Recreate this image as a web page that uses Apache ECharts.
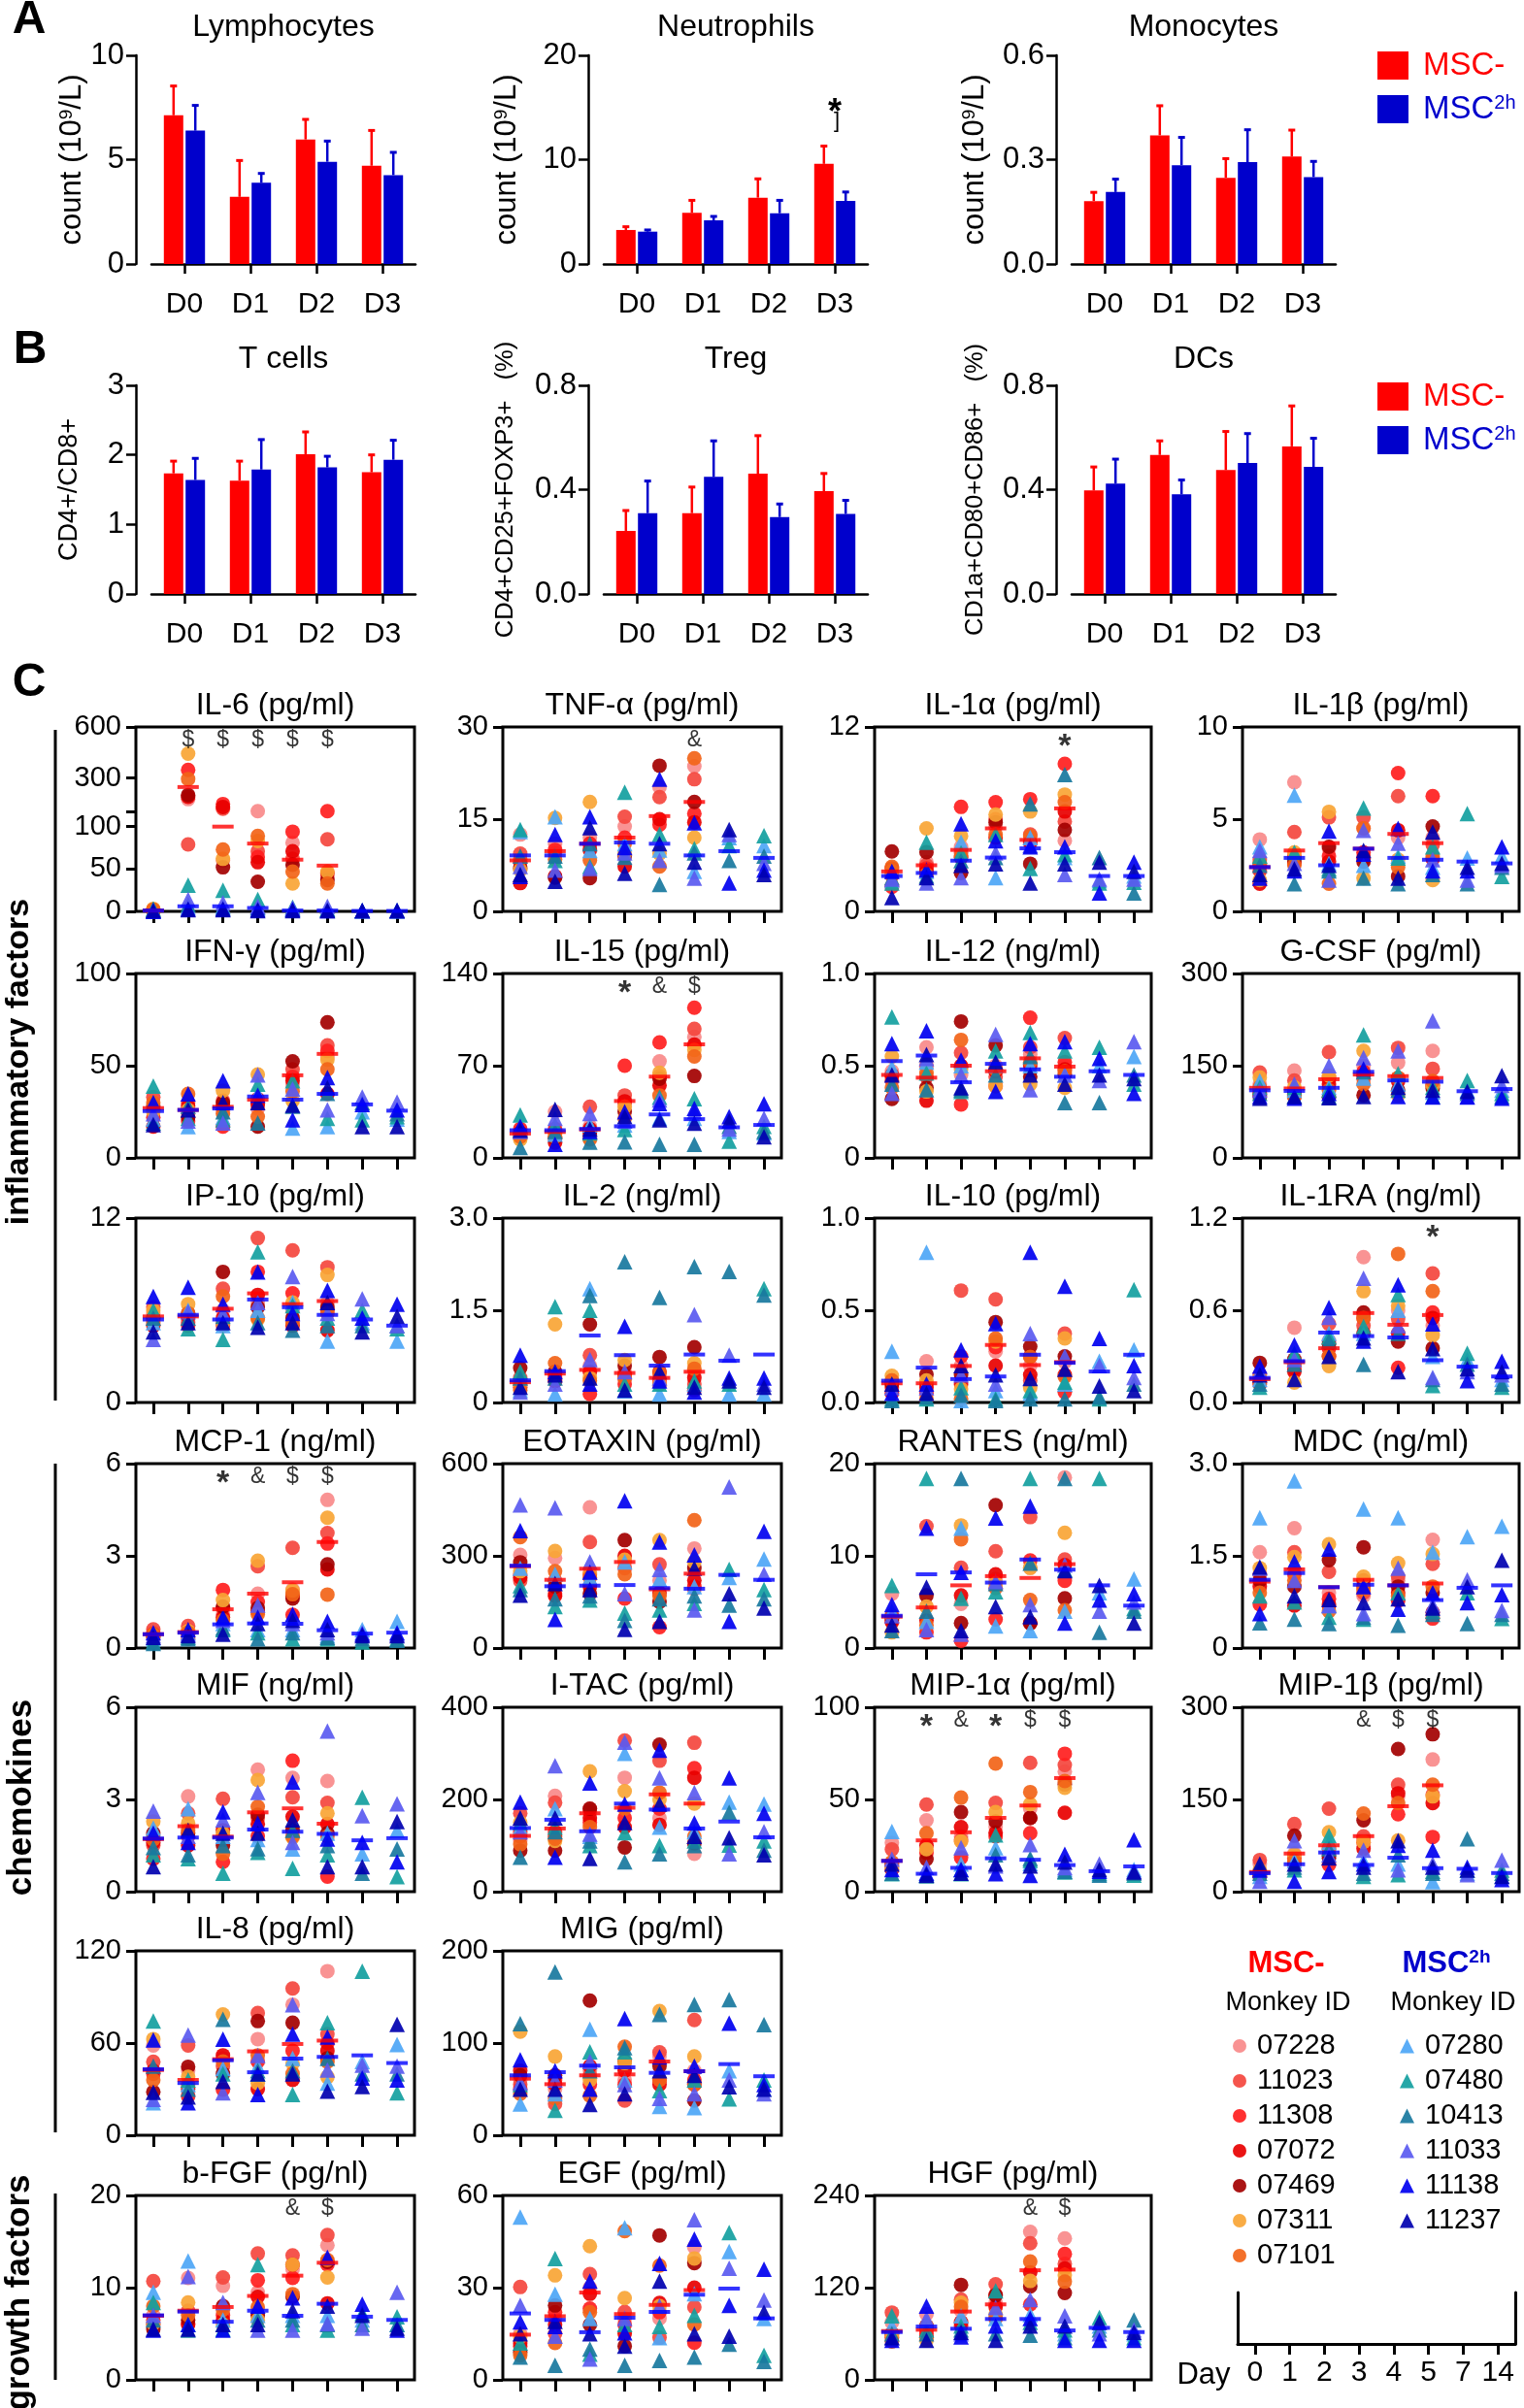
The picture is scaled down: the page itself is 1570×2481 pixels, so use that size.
<!DOCTYPE html>
<html><head><meta charset="utf-8">
<script src="https://cdn.jsdelivr.net/npm/echarts@6/dist/echarts.min.js"></script>
<style>html,body{margin:0;padding:0;background:#fff}#c{width:1570px;height:2481px}</style>
</head><body><div id="c"></div>
<script>
// ---------------- categories / ids ----------------
const BAR_CATS = ['D0','D1','D2','D3'];
const DAYS = ['0','1','2','3','4','5','7','14'];
const MSC_IDS = ['07228','11023','11308','07072','07469','07311','07101'];
const MSC2H_IDS = ['07280','07480','10413','11033','11138','11237'];

// ---------------- panel A / B bar data (mean, SEM) ----------------
const LYM_MSC = [7.13,3.22,5.97,4.71];       const LYM_MSC_ERR = [1.40,1.74,0.96,1.69];
const LYM_MSC2H = [6.39,3.89,4.90,4.26];     const LYM_MSC2H_ERR = [1.21,0.45,0.99,1.09];
const NEU_MSC = [3.26,4.90,6.36,9.60];       const NEU_MSC_ERR = [0.31,1.20,1.80,1.70];
const NEU_MSC2H = [3.10,4.19,4.87,6.05];     const NEU_MSC2H_ERR = [0.16,0.37,1.23,0.85];
const MON_MSC = [0.181,0.370,0.248,0.309];   const MON_MSC_ERR = [0.025,0.085,0.055,0.076];
const MON_MSC2H = [0.207,0.284,0.293,0.250]; const MON_MSC2H_ERR = [0.037,0.080,0.093,0.045];
const TC_MSC = [1.735,1.63,2.01,1.75];       const TC_MSC_ERR = [0.175,0.28,0.32,0.25];
const TC_MSC2H = [1.64,1.79,1.82,1.93];      const TC_MSC2H_ERR = [0.31,0.43,0.16,0.28];
const TREG_MSC = [0.242,0.31,0.461,0.394];   const TREG_MSC_ERR = [0.078,0.10,0.146,0.068];
const TREG_MSC2H = [0.31,0.449,0.295,0.307]; const TREG_MSC2H_ERR = [0.123,0.138,0.05,0.052];
const DC_MSC = [0.397,0.533,0.475,0.566];    const DC_MSC_ERR = [0.09,0.054,0.148,0.155];
const DC_MSC2H = [0.423,0.382,0.502,0.487];  const DC_MSC2H_ERR = [0.094,0.055,0.113,0.11];
const LYM_TICKS = ['0','5','10'];
const NEU_TICKS = ['0','10','20'];
const MON_TICKS = ['0.0','0.3','0.6'];
const TC_TICKS = ['0','1','2','3'];
const TREG_TICKS = ['0.0','0.4','0.8'];
const DC_TICKS = ['0.0','0.4','0.8'];

// ---------------- panel C: rows = days, cols = monkeys ----------------
const IL6_msc = [[2,2,1,1,2,3,2],[176,79,348,190,200,443,294],[60,120,147,130,52,62,73],[105,71,64,58,35,83,89],[81,62,94,71,55,33,47],[40,85,105,45,37,47,33]];
const IL6_msc2h = [[1,3,2,1,0,1],[5,31,8,14,3,2],[6,25,4,10,3,2],[4,14,5,6,2,1],[2,5,3,4,2,1],[2,3,2,6,1,1],[1,1,1,1,1,1],[1,1,1,1,1,1]];
const IL6_meanMsc = [1,247,100,80,61,54];
const IL6_meanMsc2h = [1,6,6,4,1,1,0.5,0.5];
const IL6_ticks = ['0','50','100','300','600'];
const IL6_sig = ['','$','$','$','$','$','',''];

const TNF_msc = [[12.5,9.4,8,4.6,7,6.7,8.5],[11,9.5,10,5.7,5.5,15.2,8.5],[12,11,11,10,5.4,17.8,8.3],[13.8,15.4,12,7.3,9,9.4,11],[20.2,18.6,14.1,15,23.7,9.4,7.3],[23.6,21.5,15.9,14.5,17.8,12,24.9]];
const TNF_msc2h = [[13,13.3,9,7.3,5.7,6],[15.4,8.3,9,6.7,12.5,4.9],[9.9,7.3,11,7,15.4,13.6],[11,19.4,8.8,9.5,10.4,6.2],[10,12.5,4.4,8.3,21.5,11],[6.5,10.2,9.5,5.4,14.4,8],[12,10.7,8.3,12.5,4.6,13.3],[10.7,12.3,9,7.8,6.7,6]];
const TNF_meanMsc = [8.3,9.8,11,12,15.5,17.8];
const TNF_meanMsc2h = [9.1,9.1,11,11.2,11,9.1,9.8,8.7];
const TNF_ticks = ['0','15','30'];
const TNF_sig = ['','','','','','&','',''];

const IL1A_msc = [[2.5,2.3,1.6,2.8,3.9,2.6,2.9],[3.2,3.0,2.8,2.6,3.85,5.4,2.4],[4.2,3.8,6.8,3.5,2.5,4.9,3.6],[5.5,6.0,7.1,4.8,5.8,6.3,5.0],[4.4,5.0,7.3,4.5,3.1,6.5,4.9],[4.6,5.85,9.6,6.5,5.3,7.6,7.1]];
const IL1A_msc2h = [[2.0,1.85,2.2,2.1,2.6,0.9],[2.6,4.5,2.3,1.85,2.7,2.2],[4.5,3.8,3.3,2.2,5.7,3.0],[2.2,5.0,3.5,3.8,4.6,3.1],[4.8,2.8,7.0,4.3,4.2,1.85],[3.5,3.7,8.9,2.4,4.2,3.1],[2.0,1.85,3.5,2.1,1.2,3.2],[2.3,1.9,1.2,2.1,3.2,2.6]];
const IL1A_meanMsc = [2.6,3.0,4.0,5.4,4.65,6.7];
const IL1A_meanMsc2h = [2.3,2.5,3.3,3.5,4.1,3.85,2.3,2.3];
const IL1A_ticks = ['0','12'];
const IL1A_sig = ['','','','','','*','',''];

const IL1B_msc = [[3.9,2.8,2.2,1.5,2.5,1.7,2.6],[7.0,4.3,3.0,2.6,2.8,3.2,2.5],[3.4,5.1,3.0,2.7,3.5,5.4,1.5],[4.5,5.1,3.2,2.9,2.7,1.8,4.5],[4.0,6.25,7.5,4.4,1.9,2.8,2.4],[4.0,3.6,6.25,2.85,4.6,1.7,3.0]];
const IL1B_msc2h = [[3.5,3.0,2.5,3.3,1.8,2.0],[6.3,3.2,1.5,2.6,2.2,2.3],[2.6,2.3,2.2,1.7,4.35,2.5],[2.5,5.6,1.8,4.4,3.1,3.3],[3.0,2.9,1.5,3.7,4.5,1.8],[2.4,3.5,2.0,2.8,2.2,4.3],[2.9,5.3,1.5,1.7,2.2,2.4],[3.0,1.9,2.4,2.5,3.5,2.6]];
const IL1B_meanMsc = [2.4,3.3,3.7,3.4,4.2,3.7];
const IL1B_meanMsc2h = [2.4,2.9,2.5,3.4,2.9,2.8,2.7,2.6];
const IL1B_ticks = ['0','5','10'];

const IFNG_msc = [[26,33,22,17,28,25,30],[24,30,20,28,22,26,34.7],[25,31,17,28,30,36.5,24],[26.8,30,32,29,17,45.3,22.4],[40,48,44,42,52.4,31,36],[55,61,58,34.7,73.5,53.3,48]];
const IFNG_msc2h = [[21,39,19,24,30,18],[17,21.5,28,20,34.7,26],[22,20.6,25,19,41.8,30],[35,40,19,45,33.9,30],[16.2,41.8,28,37.4,20.6,28.6],[17,21.5,35,26,43.6,38],[25,20.6,30,33,29,17],[21,22.4,24,30.3,26,17]];
const IFNG_meanMsc = [27,26,27.7,31.6,44.8,56.4];
const IFNG_meanMsc2h = [25.4,26,26.8,33.3,31.6,34.7,29,25.6];
const IFNG_ticks = ['0','50','100'];

const IL15_msc = [[20,18,22,17,19,14,16],[35,20,22,11.6,15,18,16],[24,38.8,17.8,22,20,15,14],[40,47.4,70,43,35,38.8,30],[73.3,62,87.7,55,60,64.7,47.4],[91.9,98,114,86,62.2,82,77]];
const IL15_msc2h = [[22,32.6,7.9,20,24,21],[18,25,20,30,10.4,36.8],[25,19,12,33.8,20,22],[25,21.5,12.1,28,35,31.4],[30,46,10.4,44,41.2,28.9],[30,45,10.4,35,37.5,26.4],[20,12.8,24,22,31.4,28],[19,24,20,30,41,16]];
const IL15_meanMsc = [18.5,19.7,21.5,43.2,61.7,86.2];
const IL15_meanMsc2h = [21,21,22,24,33,29.4,23.2,25];
const IL15_ticks = ['0','70','140'];
const IL15_sig = ['','','','*','&','$','',''];

const IL12_msc = [[0.47,0.42,0.44,0.45,0.32,0.55,0.38],[0.6,0.5,0.44,0.31,0.38,0.36,0.46],[0.45,0.57,0.29,0.5,0.74,0.48,0.64],[0.5,0.44,0.39,0.47,0.61,0.39,0.48],[0.56,0.6,0.76,0.5,0.44,0.4,0.52],[0.5,0.65,0.52,0.48,0.45,0.38,0.47]];
const IL12_msc2h = [[0.49,0.765,0.4,0.35,0.62,0.45],[0.52,0.46,0.37,0.54,0.69,0.56],[0.5,0.36,0.37,0.45,0.53,0.38],[0.5,0.58,0.45,0.67,0.36,0.52],[0.5,0.68,0.55,0.37,0.62,0.45],[0.45,0.58,0.3,0.45,0.63,0.4],[0.5,0.6,0.3,0.42,0.54,0.45],[0.55,0.4,0.45,0.63,0.35,0.43]];
const IL12_meanMsc = [0.45,0.435,0.5,0.47,0.54,0.495];
const IL12_meanMsc2h = [0.525,0.555,0.41,0.51,0.48,0.44,0.47,0.45];
const IL12_ticks = ['0','0.5','1.0'];

const GCSF_msc = [[120,139,110,105,100,131,115],[142,126,110,100,105,115,100],[125,172,130,120,99,134,110],[150,129,140,135,102,174,120],[155,179,130,125,110,102,130],[174,145,120,118,113,118,125]];
const GCSF_msc2h = [[125,115,105,110,100,97],[110,115,100,120,97,100],[115,110,100,150,105,98],[130,200,140,163,145,100],[120,137,110,174,100,115],[107,115,100,223,99,110],[110,126,105,100,99,108],[110,105,100,118,97,134]];
const GCSF_meanMsc = [114,113,128,135.6,133,130];
const GCSF_meanMsc2h = [110,109,114,140,126,124,108.5,112];
const GCSF_ticks = ['0','150','300'];

const IP10_msc = [[5.8,6.2,5.4,5.0,5.5,6.0,5.2],[5.5,5.2,5.0,5.6,5.8,6.4,5.8],[6.0,7.4,5.0,5.5,8.5,5.2,6.9],[6.5,10.7,8.5,7.0,6.2,5.4,5.5],[6.0,9.9,7.1,5.0,5.5,6.5,5.2],[6.5,8.8,6.0,4.7,6.2,8.3,5.8]];
const IP10_msc2h = [[5.2,6.0,5.5,4.1,6.9,4.6],[6.0,4.8,5.5,5.9,7.5,5.2],[5.0,4.1,5.6,5.8,6.4,5.2],[6.0,9.8,5.2,6.5,8.5,4.9],[6.5,6.3,4.7,8.2,5.8,5.2],[4.0,5.5,5.0,5.8,7.3,6.5],[5.2,6.0,5.0,6.75,5.5,4.6],[4.0,4.8,5.0,5.0,6.4,5.6]];
const IP10_meanMsc = [5.6,5.6,6.1,7.1,6.4,6.6];
const IP10_meanMsc2h = [5.4,5.7,5.4,6.7,6.2,5.7,5.4,5.0];
const IP10_ticks = ['0','12'];

const IL2_msc = [[0.35,0.4,0.3,0.25,0.56,0.3,0.2],[0.5,0.45,0.4,0.35,0.5,1.27,0.64],[0.6,0.77,0.14,0.5,1.27,0.4,0.35],[0.5,0.4,0.3,0.45,0.6,0.69,0.4],[0.4,0.35,0.3,0.5,0.74,0.3,0.48],[0.5,0.3,0.2,0.4,0.9,0.64,0.55]];
const IL2_msc2h = [[0.2,0.5,0.4,0.17,0.77,0.25],[0.14,1.56,0.4,0.3,0.5,0.45],[1.85,1.5,1.74,0.7,0.3,0.4],[0.19,0.3,2.29,0.5,1.24,0.2],[0.14,0.3,1.71,0.4,0.35,0.5],[0.3,0.35,2.21,1.43,0.17,0.25],[0.14,0.3,2.13,0.77,0.4,0.35],[0.14,1.85,1.75,0.3,0.4,0.25]];
const IL2_meanMsc = [0.33,0.47,0.53,0.48,0.40,0.5];
const IL2_meanMsc2h = [0.36,0.51,1.09,0.77,0.6,0.78,0.68,0.78];
const IL2_ticks = ['0','1.5','3.0'];

const IL10_msc = [[0.1,0.12,0.08,0.05,0.1,0.145,0.12],[0.224,0.1,0.05,0.08,0.153,0.12,0.02],[0.2,0.607,0.25,0.1,0.15,0.074,0.02],[0.277,0.559,0.3,0.2,0.436,0.33,0.347],[0.2,0.118,0.25,0.15,0.303,0.08,0.247],[0.22,0.374,0.056,0.15,0.25,0.347,0.14]];
const IL10_msc2h = [[0.277,0.02,0.01,0.08,0.05,0.1],[0.815,0.02,0.03,0.08,0.1,0.05],[0.01,0.08,0.04,0.15,0.286,0.2],[0.065,0.02,0.01,0.1,0.427,0.15],[0.05,0.065,0.02,0.374,0.815,0.13],[0.1,0.11,0.02,0.25,0.63,0.18],[0.224,0.02,0.03,0.2,0.347,0.09],[0.286,0.612,0.1,0.136,0.2,0.065]];
const IL10_meanMsc = [0.104,0.104,0.198,0.312,0.203,0.219];
const IL10_meanMsc2h = [0.118,0.189,0.127,0.141,0.259,0.215,0.168,0.259];
const IL10_ticks = ['0.0','0.5','1.0'];

const IL1RA_msc = [[0.15,0.18,0.14,0.12,0.258,0.16,0.13],[0.487,0.25,0.22,0.2,0.28,0.13,0.25],[0.4,0.512,0.35,0.3,0.38,0.237,0.3],[0.946,0.5,0.55,0.45,0.586,0.724,0.55],[0.6,0.544,0.226,0.45,0.396,0.629,0.967],[0.5,0.84,0.586,0.55,0.353,0.438,0.724]];
const IL1RA_msc2h = [[0.15,0.1,0.12,0.2,0.237,0.18],[0.3,0.32,0.25,0.28,0.375,0.15],[0.45,0.427,0.4,0.554,0.618,0.3],[0.45,0.495,0.248,0.808,0.4,0.42],[0.6,0.703,0.45,0.5,0.766,0.2],[0.3,0.11,0.15,0.163,0.512,0.35],[0.28,0.32,0.25,0.2,0.142,0.22],[0.15,0.1,0.12,0.18,0.269,0.2]];
const IL1RA_meanMsc = [0.152,0.262,0.353,0.582,0.506,0.569];
const IL1RA_meanMsc2h = [0.16,0.269,0.455,0.432,0.423,0.275,0.233,0.169];
const IL1RA_ticks = ['0.0','0.6','1.2'];
const IL1RA_sig = ['','','','','','*','',''];

const MCP1_msc = [[0.5,0.61,0.4,0.45,0.35,0.4,0.45],[0.6,0.72,0.3,0.5,0.45,0.55,0.5],[1.1,1.3,1.89,1.0,1.35,1.56,0.9],[1.77,2.66,1.5,1.2,1.3,2.84,1.1],[1.9,3.26,1.08,1.7,1.61,1.87,1.75],[4.82,3.74,3.4,2.56,2.72,4.24,1.74]];
const MCP1_msc2h = [[0.3,0.2,0.15,0.4,0.5,0.35],[0.5,0.35,0.3,0.45,0.6,0.4],[0.8,0.6,0.65,0.9,1.0,0.45],[0.6,0.5,0.3,1.4,1.0,0.8],[0.6,0.3,0.5,0.8,1.1,0.9],[0.4,0.3,0.35,0.5,0.87,0.6],[0.6,0.2,0.3,0.5,0.45,0.4],[0.87,0.3,0.25,0.45,0.5,0.4]];
const MCP1_meanMsc = [0.45,0.52,1.26,1.77,2.14,3.45];
const MCP1_meanMsc2h = [0.45,0.5,0.77,0.8,0.79,0.58,0.47,0.5];
const MCP1_ticks = ['0','3','6'];
const MCP1_sig = ['','','*','&','$','$','',''];

const EOT_msc = [[303,219,240,230,279,250,361],[293,220,177,170,200,316,250],[458,345,240,200,177,245,230],[280,260,161,300,351,287,240],[220,272,68,180,150,351,170],[324,193,200,220,260,280,416]];
const EOT_msc2h = [[260,203,190,466,382,172],[240,135,160,456,93,210],[230,156,170,280,247,190],[280,114,90,177,479,61],[224,124,160,256,345,87],[200,145,170,124,303,260],[230,256,140,524,87,177],[290,190,160,240,380,130]];
const EOT_meanMsc = [266,222,258,280,191,242];
const EOT_meanMsc2h = [268,201,203,205,195,193,238,222];
const EOT_ticks = ['0','300','600'];

const RANTES_msc = [[5.9,3.5,3.0,2.8,3.2,1.7,3.5],[4.5,13.2,1.7,3.0,5.7,4.5,2.5],[4.8,8.7,0.8,5.7,2.7,13.3,11.8],[7.5,10.5,3.1,8.0,15.5,7.0,6.5],[8.7,14.2,9.5,2.7,2.7,8.7,5.2],[18.5,9.6,7.3,9.0,5.4,12.5,4.1]];
const RANTES_msc2h = [[4.0,6.8,1.9,3.5,4.7,2.5],[2.9,18.4,4.0,2.0,13.0,6.6],[13.0,5.4,18.4,1.5,8.2,1.9],[2.4,6.1,7.0,7.2,14.1,4.5],[1.9,18.4,9.2,4.7,15.4,3.4],[4.0,8.5,18.4,9.0,2.7,8.4],[6.0,18.4,1.7,4.0,5.2,6.8],[7.5,4.3,4.0,5.0,5.9,2.7]];
const RANTES_meanMsc = [3.4,4.4,6.8,7.8,7.6,9.1];
const RANTES_meanMsc2h = [3.5,8.0,8.2,7.1,9.6,8.5,6.8,4.6];
const RANTES_ticks = ['0','10','20'];

const MDC_msc = [[1.56,1.2,0.71,1.0,1.1,1.3,0.9],[1.95,1.56,1.2,0.69,1.0,1.48,1.1],[0.9,1.24,0.8,0.7,1.43,1.69,0.6],[0.85,0.9,1.0,1.1,1.64,1.16,0.95],[1.1,1.16,0.77,0.9,1.0,1.38,0.85],[1.76,1.37,0.48,0.58,0.9,1.53,1.0]];
const MDC_msc2h = [[2.12,0.85,0.41,1.3,0.56,1.32],[2.72,0.75,0.47,1.1,1.4,0.85],[0.69,0.5,0.4,0.69,1.61,0.79],[2.26,0.47,0.5,0.56,1.0,0.74],[2.12,0.9,0.37,1.3,0.63,0.8],[1.56,0.6,0.55,0.7,0.9,0.65],[1.81,0.9,0.4,1.11,0.74,1.0],[1.98,0.48,0.55,0.61,0.87,1.43]];
const MDC_meanMsc = [1.08,1.28,0.99,1.11,1.02,1.05];
const MDC_meanMsc2h = [1.11,1.22,0.99,1.03,1.02,0.78,0.98,1.02];
const MDC_ticks = ['0','1.5','3.0'];

const MIF_msc = [[1.8,1.5,1.07,1.6,1.9,2.28,1.7],[3.1,2.55,1.8,1.5,1.9,2.23,2.0],[1.8,3.02,0.97,2.0,1.5,1.9,1.23],[3.97,2.4,1.81,2.2,2.5,3.63,2.76],[3.7,3.07,4.26,2.44,2.0,1.76,1.8],[3.6,2.89,0.49,2.2,1.9,2.55,1.8]];
const MIF_msc2h = [[2.07,1.2,1.44,2.62,1.9,0.81],[2.7,1.07,1.2,1.8,1.6,2.0],[1.8,0.6,1.5,2.34,2.6,1.9],[1.7,1.28,1.4,3.23,2.23,1.9],[1.39,0.76,2.0,1.6,3.57,2.34],[1.9,1.2,1.5,5.23,1.71,0.81],[1.23,3.07,0.6,2.47,1.6,0.81],[2.0,0.49,1.39,2.86,0.97,2.28]];
const MIF_meanMsc = [1.71,2.13,1.79,2.58,2.71,2.21];
const MIF_meanMsc2h = [1.73,1.76,1.76,2.02,1.95,1.88,1.67,1.74];
const MIF_ticks = ['0','3','6'];

const ITAC_msc = [[110,170,130,120,89,150,103],[208,193,130,120,89,110,115],[180,175,150,160,180,261,140],[247,328,160,140,96,218,180],[160,284,180,145,319,200,215],[82,323,268,247,105,191,120]];
const ITAC_msc2h = [[140,150,75,130,194,160],[180,140,130,273,75,160],[120,100,110,125,236,72],[300,128,65,324,190,150],[140,100,82,247,307,190],[130,110,100,215,149,120],[194,101,172,82,247,117],[190,110,90,130,170,80]];
const ITAC_meanMsc = [121,137,170,182,211,191];
const ITAC_meanMsc2h = [138,156,131,191,178,137,152,118];
const ITAC_ticks = ['0','200','400'];

const MIP1A_msc = [[26.4,22.9,14,12,15,13,16],[38.7,47.2,21.1,25,17.6,23,31.7],[30,28,18.5,35,43.1,27.3,51],[35.2,48.1,30,32,38,43.1,69.5],[45,69.9,31.7,40,40,47.5,54],[65.1,68.7,74.8,42.8,58.1,56.3,60]];
const MIP1A_msc2h = [[32.6,9.7,10,17.6,12,15],[9.7,9.0,8.5,13.2,10.0,9.0],[15,9.7,12,23.8,12,10],[23.8,30.8,20,14,9.7,15],[15.3,17,18,25.5,8.8,14],[12,10.6,11,13,20.2,16],[10,9.7,9.0,15,11,12],[12,9.0,10,11,28.2,10.6]];
const MIP1A_meanMsc = [16.7,27.8,32.2,40,46.7,61.6];
const MIP1A_meanMsc2h = [16.7,9.7,12.9,18.1,17.3,14.4,11.1,13.7];
const MIP1A_ticks = ['0','50','100'];
const MIP1A_sig = ['','*','&','*','$','$','',''];

const MIP1B_msc = [[45,51.5,30,28,25,35,27],[62,110,55,45,91,60,50],[70,135,43.5,60,55,96.7,70],[86,90,80,70,116,80.7,127],[155,174,126,160,232,83.4,144],[215,158,89,144,256,155,174]];
const MIP1B_msc2h = [[25,40,30,17,35,45],[50,35.6,40,83,17,45],[80,91,70,60,32.9,55],[50,25,30,67.4,45,40],[45,27.6,60,35.6,75.4,83],[16,33,30,45,67.4,40],[30,35,86,27.6,40,35],[25,35,30,51.5,19.6,25]];
const MIP1B_meanMsc = [31.9,62,75.4,90.3,139,173];
const MIP1B_meanMsc2h = [30,44.6,63.7,43.5,55.2,38.2,37.2,30.3];
const MIP1B_ticks = ['0','150','300'];
const MIP1B_sig = ['','','','&','$','$','',''];

const IL8_msc = [[58.4,47.8,40,42,28.2,62.6,36],[42,58.4,25.5,30,44.6,38,33],[50,45,29.7,52,40,78.6,48],[62.6,79.6,48,30,74.3,34,52],[85,95.5,55,36,73.2,46.7,40],[106.8,65.8,60,55,50,38,47.8]];
const IL8_msc2h = [[21.2,74.3,45,23.4,62,28],[33,36,30,65.2,21.2,25],[43.5,40,75.4,27.6,62.6,35],[45,40,42,52,26.5,40],[50,26.5,42,85,65.8,40],[34,73.2,50,42.5,64,28.7],[48,106.8,40,45.6,37.2,31.8],[59,27.6,40,45,36,72.2]];
const IL8_meanMsc = [42.5,36,49.5,54.6,59.4,61.6];
const IL8_meanMsc2h = [43,34,48.8,41,49.9,51,52,47];
const IL8_ticks = ['0','60','120'];

const MIG_msc = [[60,55,50,70,65,112.5,45],[50,34,60,55,65,85.4,40],[70,65,55,75,146,60,43],[60,37.7,55,70,80,78.3,96],[85.4,90,60,55,75,134.7,60],[70,125,60,55,37.7,85.4,55]];
const MIG_msc2h = [[34,55,121,57,81.8,50],[45,27,177,60,70,50],[115,90.6,70,80,50,33.5],[60,90.6,95,55,126.6,45],[31.4,48.3,131,40,85,70],[30,60,141.8,45,75,65],[70,39.5,147,60,121.7,52.6],[50,60,120,45,55,50]];
const MIG_meanMsc = [61.4,55.4,65,66,80,69.5];
const MIG_meanMsc2h = [65,68.4,75.5,73.7,67.7,69.5,77.2,64];
const MIG_ticks = ['0','100','200'];

const BFGF_msc = [[7.0,10.7,6.5,6.0,5.5,6.1,8.0],[11.05,7.5,6.1,6.0,6.5,8.4,7.0],[10.2,11.1,7.0,6.5,8.0,6.0,7.6],[9.5,13.7,10.8,9.0,7.0,6.5,7.9],[12.0,13.5,11.05,12.5,9.0,12.5,9.3],[14.6,15.7,12.5,8.3,12.8,11.1,13.0]];
const BFGF_msc2h = [[9.5,8.4,6.5,7.0,5.4,5.5],[12.9,6.0,5.4,11.2,6.0,5.5],[6.5,5.5,6.0,8.4,5.4,6.0],[7.0,12.5,6.5,5.4,8.0,6.0],[7.0,6.0,6.5,5.4,8.9,7.5],[7.0,5.4,6.0,6.1,13.3,8.0],[6.5,7.2,6.0,5.6,8.2,7.0],[6.0,6.85,6.0,9.5,5.4,5.6]];
const BFGF_meanMsc = [6.95,7.5,7.9,9.1,11.3,12.7];
const BFGF_meanMsc2h = [7.0,7.4,6.3,7.5,6.95,8.25,6.85,6.5];
const BFGF_ticks = ['0','10','20'];
const BFGF_sig = ['','','','','&','$','',''];

const EGF_msc = [[15,30.2,11,12,9,14,8],[20,15,22,18,24.2,34,12],[30,34.4,23.2,28,17.9,43.5,22],[20,22.1,18,15,11,26.6,48.4],[20,13.7,22,25,47,24,37.2],[43.2,23.7,12.1,30,38,39.5,18]];
const EGF_msc2h = [[53,12,7.4,24.2,18.9,15],[27.9,39.5,4.7,14.2,17.4,19],[20,8.4,10,6.8,32.1,15],[49.5,18,4.7,20,15.3,11],[13.7,17.4,6.3,24,37.9,32.1],[28,21,7.4,52.1,45.8,15],[41.8,47.9,11.6,36.3,24.2,14.2],[20,8,6,26,36,22]];
const EGF_meanMsc = [14.7,20.7,28.4,21.4,24.4,29.2];
const EGF_meanMsc2h = [21.6,19.5,15.5,20.2,22.1,27.7,29.7,20];
const EGF_ticks = ['0','30','60'];

const HGF_msc = [[75,87.6,60,55,60,58,50],[85.5,65,60,55,70,51.6,70],[90,104.6,70,75,123.6,100.3,95],[100,124.4,110.9,95,110,85,80],[192.6,177.8,98.2,140,121.5,128.7,154],[184.1,151.1,163.8,145,113,136.3,127.8]];
const HGF_msc2h = [[70,83.4,60,55,51.6,55],[75,65,60,80,96,51.6],[83.4,70,65,60,55.9,62],[80,116,60.1,94,70,51.6],[85,75,58,104.6,80,70],[60,65,55,83.4,51.6,70],[70,81.3,65,60,51.6,75],[60,55,77.9,65,51.6,62]];
const HGF_meanMsc = [63.5,65.2,88.9,98.2,142.6,143.5];
const HGF_meanMsc2h = [62.2,69.4,66.5,79.2,79.2,64.3,67.7,62.2];
const HGF_ticks = ['0','120','240'];
const HGF_sig = ['','','','','&','$','',''];

// ---------------- styling ----------------
const FONT = "'Liberation Sans', Arial, Helvetica, sans-serif";
const RED = '#FF0000', BLUE = '#0000CC', MEAN_BLUE = '#0000FF';
const MSC_COLORS = ['#F98A8A','#F4473E','#FF1E1E','#E80000','#A30000','#F9A535','#F26418'];
const MSC2H_COLORS = ['#4DA6F6','#14A0A0','#18789E','#5A5AF0','#0000F0','#0000B0'];

// broken IL-6 axis: 0-100 linear, then compressed segment 100-600
function il6Scale(v){ return v <= 100 ? v : 117.2 + (v - 100) * 0.2008; }

const option = {animation:false, backgroundColor:'#fff', textStyle:{fontFamily:FONT},
  grid:[], xAxis:[], yAxis:[], series:[], legend:[], graphic:[]};

function T(x, y, text, size, o){
  o = o || {};
  return {type:'text', x:x, y:y, rotation:o.rot||0, z:100,
    style:{text:text, fontSize:size, fontFamily:FONT, fontWeight:o.bold?'bold':'normal',
      fill:o.color||'#000', align:o.align||'center', verticalAlign:'middle', rich:o.rich}};
}
function L(x1,y1,x2,y2,w){ return {type:'line', z:100, shape:{x1:x1,y1:y1,x2:x2,y2:y2}, style:{stroke:'#000', lineWidth:w||3}}; }

// ---------------- bar panels (A, B) ----------------
const BAR_LEFT = [156, 622, 1104], BAR_W = 272, BAR_TOP = [57, 397], BAR_H = 215;
const BAR_PANELS = [
  {t:'Lymphocytes', c:0, r:0, msc:LYM_MSC, mscE:LYM_MSC_ERR, m2:LYM_MSC2H, m2E:LYM_MSC2H_ERR, ticks:LYM_TICKS, name:'count (10{sup|9}/L)', gap:50, ns:31},
  {t:'Neutrophils', c:1, r:0, msc:NEU_MSC, mscE:NEU_MSC_ERR, m2:NEU_MSC2H, m2E:NEU_MSC2H_ERR, ticks:NEU_TICKS, name:'count (10{sup|9}/L)', gap:68, ns:31},
  {t:'Monocytes', c:2, r:0, msc:MON_MSC, mscE:MON_MSC_ERR, m2:MON_MSC2H, m2E:MON_MSC2H_ERR, ticks:MON_TICKS, name:'count (10{sup|9}/L)', gap:68, ns:31},
  {t:'T cells', c:0, r:1, msc:TC_MSC, mscE:TC_MSC_ERR, m2:TC_MSC2H, m2E:TC_MSC2H_ERR, ticks:TC_TICKS, name:'CD4+/CD8+', gap:55, ns:27},
  {t:'Treg', c:1, r:1, msc:TREG_MSC, mscE:TREG_MSC_ERR, m2:TREG_MSC2H, m2E:TREG_MSC2H_ERR, ticks:TREG_TICKS, name:'CD4+CD25+FOXP3+   (%)', gap:72, ns:25.5},
  {t:'DCs', c:2, r:1, msc:DC_MSC, mscE:DC_MSC_ERR, m2:DC_MSC2H, m2E:DC_MSC2H_ERR, ticks:DC_TICKS, name:'CD1a+CD80+CD86+   (%)', gap:70, ns:25.5}
];

function errSeries(gi, data, color, shift){
  return {type:'custom', xAxisIndex:gi, yAxisIndex:gi, z:5, silent:true,
    data: data,
    renderItem: function(params, api){
      const base = api.coord([api.value(0), api.value(1)]);
      const top = api.coord([api.value(0), api.value(1) + api.value(2)]);
      const cx = base[0] + shift;
      return {type:'group', children:[
        {type:'line', shape:{x1:cx, y1:base[1], x2:cx, y2:top[1]}, style:{stroke:color, lineWidth:2.5}},
        {type:'line', shape:{x1:cx-3.5, y1:top[1], x2:cx+3.5, y2:top[1]}, style:{stroke:color, lineWidth:3}}
      ]};
    }};
}

BAR_PANELS.forEach(function(p){
  const gi = option.grid.length;
  const max = parseFloat(p.ticks[p.ticks.length-1]);
  const interval = max / (p.ticks.length - 1);
  option.grid.push({left:BAR_LEFT[p.c], top:BAR_TOP[p.r], width:BAR_W, height:BAR_H, outerBoundsMode:'none', containLabel:false});
  option.xAxis.push({gridIndex:gi, type:'category', data:BAR_CATS, offset:14,
    axisLine:{show:true, lineStyle:{color:'#000', width:2.5}},
    axisTick:{show:true, alignWithLabel:true, interval:0, length:10, lineStyle:{color:'#000', width:2.5}},
    axisLabel:{show:true, interval:0, color:'#000', fontSize:30, margin:13, fontFamily:FONT},
    splitLine:{show:false}});
  option.yAxis.push({gridIndex:gi, type:'value', min:0, max:max, interval:interval, offset:16,
    axisLine:{show:true, lineStyle:{color:'#000', width:2.5}},
    axisTick:{show:true, length:10, lineStyle:{color:'#000', width:2.5}},
    axisLabel:{color:'#000', fontSize:31, margin:12, fontFamily:FONT,
      formatter:function(v){ const i = Math.round(v/interval); return p.ticks[i] !== undefined ? p.ticks[i] : ''; }},
    splitLine:{show:false},
    name:p.name, nameLocation:'middle', nameGap:p.gap, nameMoveOverlap:false,
    nameTextStyle:{color:'#000', fontSize:p.ns, fontFamily:FONT, rich:{sup:{fontSize:19, fontFamily:FONT, color:'#000', verticalAlign:'top', lineHeight:18}}}});
  option.series.push({type:'bar', name:'MSC-', xAxisIndex:gi, yAxisIndex:gi, data:p.msc, barWidth:20, barGap:'12%', itemStyle:{color:RED}, z:3});
  option.series.push({type:'bar', name:'MSC2h', xAxisIndex:gi, yAxisIndex:gi, data:p.m2, barWidth:20, barGap:'12%', itemStyle:{color:BLUE}, z:3});
  option.series.push(errSeries(gi, p.msc.map(function(v,i){return [i, v, p.mscE[i]];}), RED, -11.2));
  option.series.push(errSeries(gi, p.m2.map(function(v,i){return [i, v, p.m2E[i]];}), BLUE, 11.2));
  option.graphic.push(T(BAR_LEFT[p.c] + BAR_W/2, p.r === 0 ? 28 : 370, p.t, 32));
});

// legends for A and B
[46, 387].forEach(function(top){
  option.legend.push({orient:'vertical', left:1414, top:top, itemWidth:32, itemHeight:29, itemGap:12, selectedMode:false,
    data:[{name:'MSC-', icon:'rect', textStyle:{color:RED}}, {name:'MSC2h', icon:'rect', textStyle:{color:BLUE}}],
    formatter:function(n){ return n === 'MSC2h' ? 'MSC{sup|2h}' : n; },
    textStyle:{fontSize:33, fontFamily:FONT, padding:[0,0,0,10], lineHeight:32,
      rich:{sup:{fontSize:20, fontFamily:FONT, color:BLUE, verticalAlign:'top', lineHeight:18}}}});
});

// Neutrophils significance
option.graphic.push(T(860, 117, '*', 36, {bold:true}));
option.graphic.push(T(862, 125, ']', 22));

// ---------------- scatter panels (C) ----------------
const C_COL_LEFT = [140, 518, 901, 1280], C_COL_W = [287, 287, 285, 285];
const C_ROW_TOP = [749, 1003, 1255, 1508, 1759, 2010, 2262], C_H = 190;
const C_PANELS = [
  {t:'IL-6 (pg/ml)', c:0, r:0, a:IL6_msc, b:IL6_msc2h, am:IL6_meanMsc, bm:IL6_meanMsc2h, ticks:IL6_ticks, sig:IL6_sig, scale:il6Scale},
  {t:'TNF-α (pg/ml)', c:1, r:0, a:TNF_msc, b:TNF_msc2h, am:TNF_meanMsc, bm:TNF_meanMsc2h, ticks:TNF_ticks, sig:TNF_sig},
  {t:'IL-1α (pg/ml)', c:2, r:0, a:IL1A_msc, b:IL1A_msc2h, am:IL1A_meanMsc, bm:IL1A_meanMsc2h, ticks:IL1A_ticks, sig:IL1A_sig},
  {t:'IL-1β (pg/ml)', c:3, r:0, a:IL1B_msc, b:IL1B_msc2h, am:IL1B_meanMsc, bm:IL1B_meanMsc2h, ticks:IL1B_ticks},
  {t:'IFN-γ (pg/ml)', c:0, r:1, a:IFNG_msc, b:IFNG_msc2h, am:IFNG_meanMsc, bm:IFNG_meanMsc2h, ticks:IFNG_ticks},
  {t:'IL-15 (pg/ml)', c:1, r:1, a:IL15_msc, b:IL15_msc2h, am:IL15_meanMsc, bm:IL15_meanMsc2h, ticks:IL15_ticks, sig:IL15_sig},
  {t:'IL-12 (ng/ml)', c:2, r:1, a:IL12_msc, b:IL12_msc2h, am:IL12_meanMsc, bm:IL12_meanMsc2h, ticks:IL12_ticks},
  {t:'G-CSF (pg/ml)', c:3, r:1, a:GCSF_msc, b:GCSF_msc2h, am:GCSF_meanMsc, bm:GCSF_meanMsc2h, ticks:GCSF_ticks},
  {t:'IP-10 (pg/ml)', c:0, r:2, a:IP10_msc, b:IP10_msc2h, am:IP10_meanMsc, bm:IP10_meanMsc2h, ticks:IP10_ticks},
  {t:'IL-2 (ng/ml)', c:1, r:2, a:IL2_msc, b:IL2_msc2h, am:IL2_meanMsc, bm:IL2_meanMsc2h, ticks:IL2_ticks},
  {t:'IL-10 (pg/ml)', c:2, r:2, a:IL10_msc, b:IL10_msc2h, am:IL10_meanMsc, bm:IL10_meanMsc2h, ticks:IL10_ticks},
  {t:'IL-1RA (ng/ml)', c:3, r:2, a:IL1RA_msc, b:IL1RA_msc2h, am:IL1RA_meanMsc, bm:IL1RA_meanMsc2h, ticks:IL1RA_ticks, sig:IL1RA_sig},
  {t:'MCP-1 (ng/ml)', c:0, r:3, a:MCP1_msc, b:MCP1_msc2h, am:MCP1_meanMsc, bm:MCP1_meanMsc2h, ticks:MCP1_ticks, sig:MCP1_sig},
  {t:'EOTAXIN (pg/ml)', c:1, r:3, a:EOT_msc, b:EOT_msc2h, am:EOT_meanMsc, bm:EOT_meanMsc2h, ticks:EOT_ticks},
  {t:'RANTES (ng/ml)', c:2, r:3, a:RANTES_msc, b:RANTES_msc2h, am:RANTES_meanMsc, bm:RANTES_meanMsc2h, ticks:RANTES_ticks},
  {t:'MDC (ng/ml)', c:3, r:3, a:MDC_msc, b:MDC_msc2h, am:MDC_meanMsc, bm:MDC_meanMsc2h, ticks:MDC_ticks},
  {t:'MIF (ng/ml)', c:0, r:4, a:MIF_msc, b:MIF_msc2h, am:MIF_meanMsc, bm:MIF_meanMsc2h, ticks:MIF_ticks},
  {t:'I-TAC (pg/ml)', c:1, r:4, a:ITAC_msc, b:ITAC_msc2h, am:ITAC_meanMsc, bm:ITAC_meanMsc2h, ticks:ITAC_ticks},
  {t:'MIP-1α (pg/ml)', c:2, r:4, a:MIP1A_msc, b:MIP1A_msc2h, am:MIP1A_meanMsc, bm:MIP1A_meanMsc2h, ticks:MIP1A_ticks, sig:MIP1A_sig},
  {t:'MIP-1β (pg/ml)', c:3, r:4, a:MIP1B_msc, b:MIP1B_msc2h, am:MIP1B_meanMsc, bm:MIP1B_meanMsc2h, ticks:MIP1B_ticks, sig:MIP1B_sig},
  {t:'IL-8 (pg/ml)', c:0, r:5, a:IL8_msc, b:IL8_msc2h, am:IL8_meanMsc, bm:IL8_meanMsc2h, ticks:IL8_ticks},
  {t:'MIG (pg/ml)', c:1, r:5, a:MIG_msc, b:MIG_msc2h, am:MIG_meanMsc, bm:MIG_meanMsc2h, ticks:MIG_ticks},
  {t:'b-FGF (pg/nl)', c:0, r:6, a:BFGF_msc, b:BFGF_msc2h, am:BFGF_meanMsc, bm:BFGF_meanMsc2h, ticks:BFGF_ticks, sig:BFGF_sig},
  {t:'EGF (pg/ml)', c:1, r:6, a:EGF_msc, b:EGF_msc2h, am:EGF_meanMsc, bm:EGF_meanMsc2h, ticks:EGF_ticks},
  {t:'HGF (pg/ml)', c:2, r:6, a:HGF_msc, b:HGF_msc2h, am:HGF_meanMsc, bm:HGF_meanMsc2h, ticks:HGF_ticks, sig:HGF_sig}
];

C_PANELS.forEach(function(p){
  const gi = option.grid.length;
  const f = p.scale || function(v){ return v; };
  const left = C_COL_LEFT[p.c], top = C_ROW_TOP[p.r], w = C_COL_W[p.c];
  const yMax = f(parseFloat(p.ticks[p.ticks.length-1]));
  option.grid.push({left:left, top:top, width:w, height:C_H, show:true, borderColor:'#000', borderWidth:3,
    backgroundColor:'rgba(0,0,0,0)', outerBoundsMode:'none', containLabel:false});
  option.xAxis.push({gridIndex:gi, type:'category', data:DAYS, boundaryGap:true,
    axisLine:{show:false},
    axisTick:{show:true, alignWithLabel:true, interval:0, length:12, lineStyle:{color:'#000', width:3}},
    axisLabel:{show:false, interval:0}, splitLine:{show:false}});
  const ya = {gridIndex:gi, type:'value', min:0, max:yMax,
    axisLine:{show:false},
    axisTick:{show:true, length:10, lineStyle:{color:'#000', width:3}},
    axisLabel:{color:'#000', fontSize:29, margin:15, fontFamily:FONT}, splitLine:{show:false}};
  if (p.scale) {
    const vals = p.ticks.map(function(s){ return f(parseFloat(s)); });
    ya.axisLabel.customValues = vals;
    ya.axisTick.customValues = vals.concat([f(100.0001)]);
    ya.axisLabel.formatter = function(v){
      for (let i = 0; i < vals.length; i++) if (Math.abs(vals[i]-v) < 1e-6) return p.ticks[i];
      return '';
    };
  } else {
    const interval = yMax / (p.ticks.length - 1);
    ya.interval = interval;
    ya.axisLabel.formatter = function(v){ const i = Math.round(v/interval); return p.ticks[i] !== undefined ? p.ticks[i] : ''; };
  }
  option.yAxis.push(ya);
  MSC_IDS.forEach(function(id, m){
    option.series.push({type:'scatter', name:id, xAxisIndex:gi, yAxisIndex:gi, symbol:'circle', symbolSize:15, z:3,
      itemStyle:{color:MSC_COLORS[m], opacity:0.92},
      data:p.a.map(function(row, d){ return [d, f(row[m])]; })});
  });
  MSC2H_IDS.forEach(function(id, m){
    option.series.push({type:'scatter', name:id, xAxisIndex:gi, yAxisIndex:gi, symbol:'triangle', symbolSize:16, z:4,
      itemStyle:{color:MSC2H_COLORS[m], opacity:0.92},
      data:p.b.map(function(row, d){ return [d, f(row[m])]; })});
  });
  option.series.push({type:'scatter', name:'mean MSC-', xAxisIndex:gi, yAxisIndex:gi, symbol:'rect', symbolSize:[22,4], z:6,
    itemStyle:{color:RED}, data:p.am.map(function(v, d){ return [d, f(v)]; })});
  option.series.push({type:'scatter', name:'mean MSC2h', xAxisIndex:gi, yAxisIndex:gi, symbol:'rect', symbolSize:[22,4], z:6,
    itemStyle:{color:MEAN_BLUE}, data:p.bm.map(function(v, d){ return [d, f(v)]; })});
  if (p.sig) {
    const ys = yMax * (1 - 14 / C_H);
    const sd = [];
    p.sig.forEach(function(s, d){ if (s) sd.push([d, ys, s]); });
    option.series.push({type:'scatter', name:'sig', xAxisIndex:gi, yAxisIndex:gi, symbolSize:1, z:7, silent:true,
      itemStyle:{color:'rgba(0,0,0,0)'}, data:sd,
      label:{show:true, position:'inside', color:'#000', fontFamily:FONT,
        formatter:function(pp){ return pp.data[2] === '*' ? '{star|*}' : '{sym|' + pp.data[2] + '}'; },
        rich:{star:{fontSize:34, fontWeight:'bold', color:'#000', padding:[14,0,0,0]}, sym:{fontSize:23, color:'#000'}}}});
  }
  option.graphic.push(T(left + w/2, top - 22, p.t, 32));
});

// ---------------- day key ----------------
{
  const gi = option.grid.length;
  option.grid.push({left:1275, top:2362, width:286, height:53, outerBoundsMode:'none', containLabel:false});
  option.xAxis.push({gridIndex:gi, type:'category', data:DAYS, boundaryGap:true,
    axisLine:{show:true, lineStyle:{color:'#000', width:3}},
    axisTick:{show:true, alignWithLabel:true, interval:0, length:11, lineStyle:{color:'#000', width:3}},
    axisLabel:{show:true, interval:0, color:'#000', fontSize:30, margin:15, fontFamily:FONT}});
  option.yAxis.push({gridIndex:gi, type:'value', min:0, max:1, axisLine:{show:true, lineStyle:{color:'#000', width:3}},
    axisTick:{show:false}, axisLabel:{show:false}, splitLine:{show:false}});
  option.yAxis.push({gridIndex:gi, type:'value', min:0, max:1, position:'right', axisLine:{show:true, lineStyle:{color:'#000', width:3}},
    axisTick:{show:false}, axisLabel:{show:false}, splitLine:{show:false}});
  option.graphic.push(T(1240, 2447, 'Day', 31));
}

// ---------------- monkey ID legends ----------------
option.legend.push({orient:'vertical', left:1265, top:2088, itemWidth:14, itemHeight:14, itemGap:6, selectedMode:false,
  data:MSC_IDS.map(function(id){ return {name:id, icon:'circle'}; }),
  textStyle:{fontSize:29, fontFamily:FONT, color:'#000', lineHeight:30, padding:[0,0,0,6]}});
option.legend.push({orient:'vertical', left:1437, top:2088, itemWidth:15, itemHeight:15, itemGap:6, selectedMode:false,
  data:MSC2H_IDS.map(function(id){ return {name:id, icon:'triangle'}; }),
  textStyle:{fontSize:29, fontFamily:FONT, color:'#000', lineHeight:30, padding:[0,0,0,6]}});
option.graphic.push(T(1325, 2023, 'MSC-', 31, {bold:true, color:RED}));
option.graphic.push(T(1490, 2023, 'MSC{s|2h}', 31, {bold:true, color:BLUE,
  rich:{s:{fontSize:19, fontWeight:'bold', fontFamily:FONT, fill:BLUE, color:BLUE, verticalAlign:'top', lineHeight:18}}}));
option.graphic.push(T(1327, 2064, 'Monkey ID', 27));
option.graphic.push(T(1497, 2064, 'Monkey ID', 27));

// ---------------- panel letters, row labels ----------------
option.graphic.push(T(30, 21, 'A', 48, {bold:true}));
option.graphic.push(T(31, 361, 'B', 48, {bold:true}));
option.graphic.push(T(30, 704, 'C', 48, {bold:true}));
option.graphic.push(T(20, 1094, 'inflammatory factors', 34, {bold:true, rot:Math.PI/2}));
option.graphic.push(T(22, 1852, 'chemokines', 35, {bold:true, rot:Math.PI/2}));
option.graphic.push(T(20, 2362, 'growth factors', 35, {bold:true, rot:Math.PI/2}));
option.graphic.push(L(57, 752, 57, 1443, 3));
option.graphic.push(L(57, 1508, 57, 2197, 3));
option.graphic.push(L(57, 2260, 57, 2452, 3));

const chart = echarts.init(document.getElementById('c'), null, {renderer:'canvas', width:1570, height:2481});
chart.setOption(option);
</script>
</body></html>
